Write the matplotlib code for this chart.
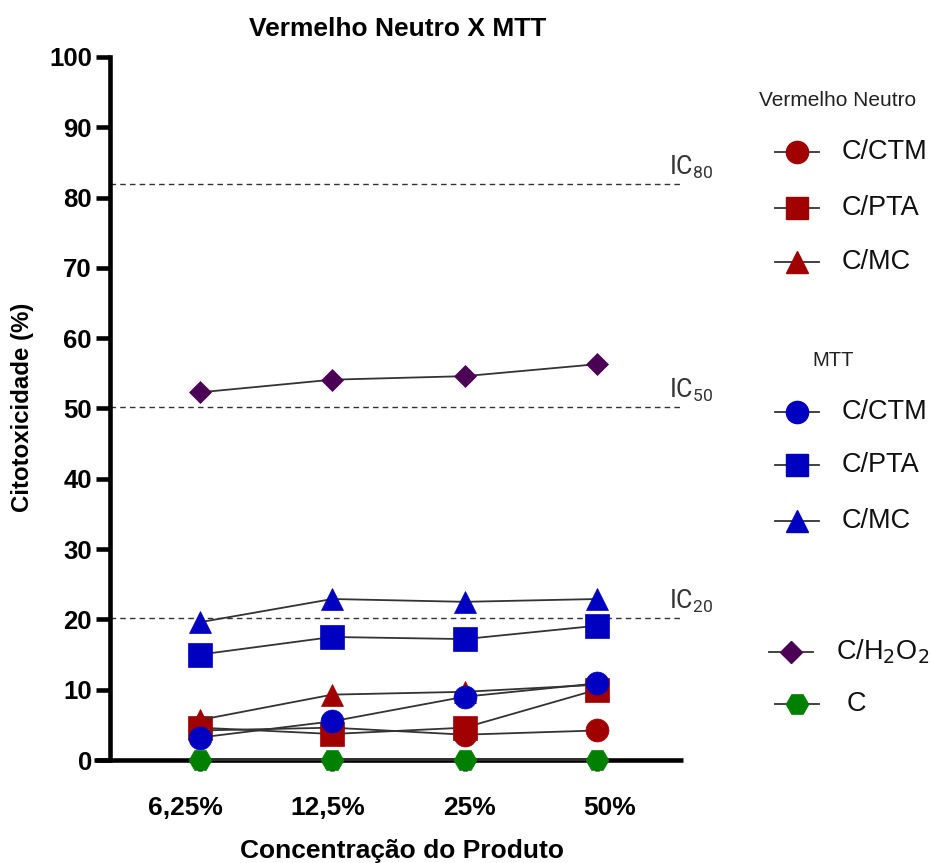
import matplotlib
matplotlib.use("Agg")
import matplotlib.pyplot as plt
from matplotlib.transforms import ScaledTranslation
import numpy as np

plt.rcParams['font.family'] = ['Liberation Sans', 'DejaVu Sans']

# ---------------- data ----------------
categories = ["6,25%", "12,5%", "25%", "50%"]
vn_ctm = [4.2, 4.6, 3.6, 4.2]
vn_pta = [4.6, 3.7, 4.6, 10.0]
vn_mc = [5.7, 9.3, 9.7, 10.7]
mtt_ctm = [3.2, 5.5, 9.0, 10.9]
mtt_pta = [15.0, 17.5, 17.2, 19.1]
mtt_mc = [19.6, 22.9, 22.5, 22.9]
h2o2 = [52.3, 54.1, 54.6, 56.3]
ctrl = [0, 0, 0, 0]
ic_levels = [82.0, 50.2, 20.2]
ic_labels = ["80", "50", "20"]
yticks = list(range(0, 101, 10))

RED = '#A00000'
BLUE = '#0000C0'
PURPLE = '#4B0055'
GREEN = '#008000'

W, H = 930, 863
fig = plt.figure(figsize=(W / 100, H / 100), dpi=100)

x0, x1 = 94, 683
ytop, ybot = 57, 760
ax = fig.add_axes([x0 / W, (H - ybot) / H, (x1 - x0) / W, (ybot - ytop) / H])
xs = np.arange(len(categories))
sp = 132.3
ax.set_xlim((x0 - 200) / sp, (x1 - 200) / sp)
ax.set_ylim(0, 100)

for s in ['top', 'right']:
    ax.spines[s].set_visible(False)
ax.spines['left'].set_position(('data', (110 - 200) / sp))
ax.spines['left'].set_linewidth(3.3)
ax.spines['bottom'].set_linewidth(3.3)
ax.spines['left'].set_capstyle('projecting')
ax.spines['bottom'].set_capstyle('butt')

ax.set_yticks(yticks)
ax.set_yticklabels([str(t) for t in yticks], fontsize=18.5, fontweight='bold')
ax.set_xticks(xs)
ax.set_xticklabels(categories, fontsize=19, fontweight='bold')
ax.tick_params(axis='y', length=10, width=3.3, pad=3)
ax.tick_params(axis='x', length=8, width=3.3, pad=18)
for lbl, dx in zip(ax.get_xticklabels(), [-15, -5, 5, 13]):
    lbl.set_transform(lbl.get_transform() + ScaledTranslation(dx / 100, 0, fig.dpi_scale_trans))

# IC lines
for lev, lab in zip(ic_levels, ic_labels):
    ax.plot([(110 - 200) / sp, (683 - 200) / sp], [lev, lev], ls=(0, (4, 3)), color='#333333', lw=1.0, zorder=1)
    ax.text(3.545, lev + 1.3, r"$\mathregular{IC_{%s}}$" % lab, fontsize=18,
            family=['Liberation Sans Narrow', 'Roboto'], color='#333333', ha='left', va='baseline')

lc = '#333333'
lw = 1.3
series = [
    (vn_ctm, 'o', RED, 16.5),
    (vn_pta, 's', RED, 17),
    (vn_mc, '^', RED, 16.5),
    (mtt_ctm, 'o', BLUE, 16.5),
    (mtt_pta, 's', BLUE, 17),
    (mtt_mc, '^', BLUE, 16.5),
    (h2o2, 'D', PURPLE, 11.5),
    (ctrl, 'H', GREEN, 16.5),
]
for i, (vals, m, c, ms) in enumerate(series):
    ax.plot(xs, vals, color=lc, lw=lw, marker=m, markersize=ms, markerfacecolor=c,
            markeredgecolor=c, markeredgewidth=0.5, clip_on=False, zorder=3 + i)

# titles
fig.text(398 / W, 1 - 29 / H, "Vermelho Neutro X MTT", fontsize=19, fontweight='bold', ha='center', va='center')
fig.text(402 / W, 1 - 851 / H, "Concentração do Produto", fontsize=19, fontweight='bold', ha='center', va='center')
fig.text(23 / W, 1 - 407 / H, "Citotoxicidade (%)", fontsize=17.3, fontweight='bold', ha='center', va='center', rotation=90)

# legend (manual, in pixel coordinates)
lg = fig.add_axes([0, 0, 1, 1])
lg.set_xlim(0, W)
lg.set_ylim(H, 0)
lg.axis('off')
lg.patch.set_alpha(0)

lg.text(838, 100, "Vermelho Neutro", fontsize=15, ha='center', va='center', color='#222222')
lg.text(833, 360, "MTT", fontsize=14.5, ha='center', va='center', color='#222222')
legend_rows = [
    ("C/CTM", 'o', RED, 16, 152),
    ("C/PTA", 's', RED, 16.5, 208),
    ("C/MC", '^', RED, 16, 262),
    ("C/CTM", 'o', BLUE, 16, 412),
    ("C/PTA", 's', BLUE, 16.5, 465),
    ("C/MC", '^', BLUE, 16, 521),
    ("C/H$_2$O$_2$", 'D', PURPLE, 11.5, 652),
    ("C", 'H', GREEN, 16, 704),
]
for lab, m, c, ms, yy in legend_rows:
    cx = 797 if lab != "C/H$_2$O$_2$" else 791
    lg.plot([cx - 22, cx + 22], [yy, yy], color=lc, lw=lw)
    lg.plot([cx], [yy], marker=m, markersize=ms, color=c, markeredgecolor=c)
    lg.text(cx + 45 if lab != "C" else cx + 50, yy, lab, fontsize=19.5, ha='left', va='center', color='#111111')

fig.savefig("out.png", dpi=100)
